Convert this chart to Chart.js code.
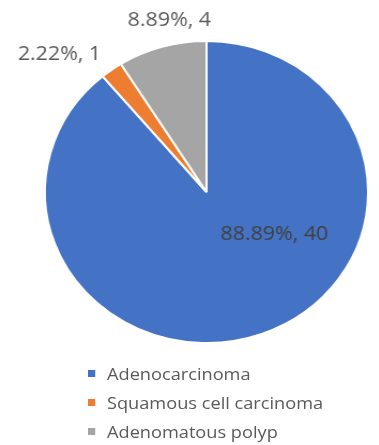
<!DOCTYPE html>
<html>
<head>
<meta charset="utf-8">
<script src="https://cdn.jsdelivr.net/npm/chart.js@4.4.0/dist/chart.umd.min.js"></script>
<style>
  html, body { margin: 0; padding: 0; background: #fff; }
  #wrap {
    position: relative;
    width: 354px;
    height: 445px;
    transform: scaleX(1.07);
    transform-origin: 0 0;
  }
  #chart { position: absolute; left: 0; top: 0; }
  #legend {
    position: absolute;
    left: 82px;
    top: 359px;
    font-family: "Open Sans", sans-serif;
    font-size: 17px;
    color: #595959;
  }
  .item { height: 29px; display: flex; align-items: center; }
  .box { width: 7px; height: 7px; margin-right: 11px; }
</style>
</head>
<body>
<div id="wrap">
  <canvas id="chart" width="354" height="360"></canvas>
  <div id="legend"></div>
</div>
<script>
// data
const categories = ['Adenocarcinoma', 'Squamous cell carcinoma', 'Adenomatous polyp'];
const counts = [40, 1, 4];
const percentLabels = ['88.89%', '2.22%', '8.89%'];
const colors = ['#4472C4', '#ED7D31', '#A5A5A5'];

// where each data label sits, as a fraction of the radius from the centre
const labelOffsets = [[0.42, 0.28], [-0.91, -0.915], [-0.23, -1.14]];
const labelColors = ['#404040', '#595959', '#595959'];

// simple data labels (no datalabels plugin available offline)
const sliceLabels = {
    id: 'sliceLabels',
    afterDatasetsDraw(chart) {
        const ctx = chart.ctx;
        const meta = chart.getDatasetMeta(0);
        ctx.save();
        ctx.font = '20px "Open Sans", sans-serif';
        ctx.textAlign = 'center';
        ctx.textBaseline = 'middle';
        meta.data.forEach((arc, i) => {
            const r = arc.outerRadius;
            const x = arc.x + labelOffsets[i][0] * r;
            const y = arc.y + labelOffsets[i][1] * r;
            ctx.fillStyle = labelColors[i];
            ctx.fillText(percentLabels[i] + ', ' + counts[i], x, y);
        });
        ctx.restore();
    }
};

const ctx = document.getElementById('chart').getContext('2d');
const pieChart = new Chart(ctx, {
    type: 'pie',
    data: {
        labels: categories,
        datasets: [{
            data: counts,
            backgroundColor: colors,
            borderColor: '#ffffff',
            borderWidth: 2
        }]
    },
    options: {
        responsive: false,
        animation: false,
        layout: {
            padding: { top: 40, bottom: 16, left: 41, right: 9 }
        },
        plugins: {
            legend: { display: false },
            tooltip: { enabled: false }
        }
    },
    plugins: [sliceLabels]
});

// legend as a single column, like the original
const legend = document.getElementById('legend');
categories.forEach((name, i) => {
    const row = document.createElement('div');
    row.className = 'item';
    const box = document.createElement('span');
    box.className = 'box';
    box.style.background = colors[i];
    const txt = document.createElement('span');
    txt.textContent = name;
    row.appendChild(box);
    row.appendChild(txt);
    legend.appendChild(row);
});
</script>
</body>
</html>
